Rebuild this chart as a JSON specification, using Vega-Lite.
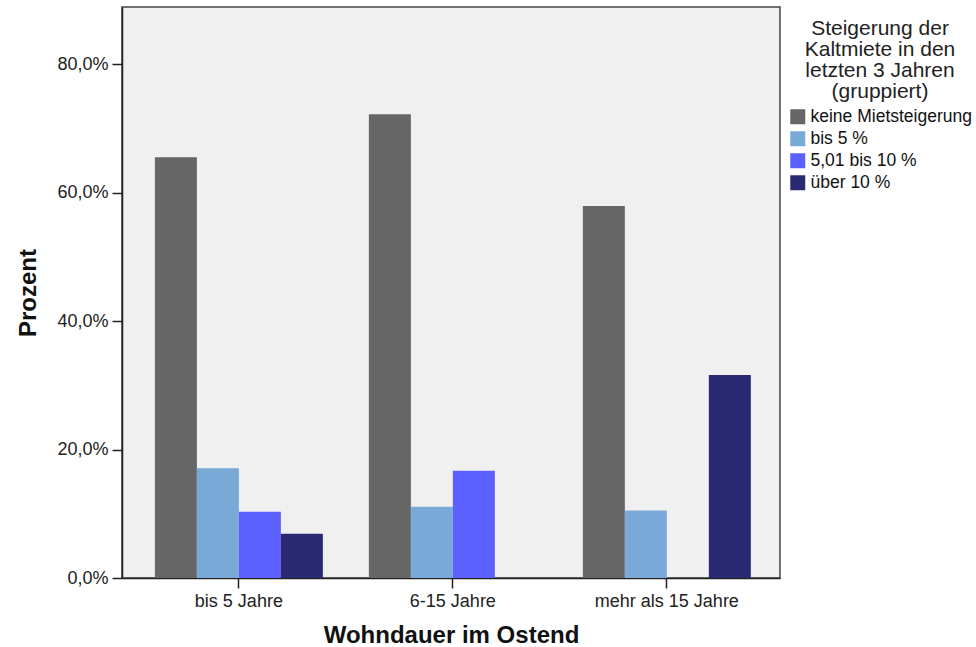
{
  "$schema": "https://vega.github.io/schema/vega-lite/v6.json",
  "width": 658,
  "height": 571,
  "autosize": {"type": "none"},
  "padding": {"left": 122, "top": 7, "right": 196, "bottom": 69},
  "background": "white",
  "config": {
    "font": "Liberation Sans",
    "view": {"fill": "#f0f0f0", "stroke": "#444444", "strokeWidth": 1.5}
  },
  "data": {
    "values": [
      {"wohndauer": "bis 5 Jahre", "steigerung": "keine Mietsteigerung", "prozent": 65.5},
      {"wohndauer": "bis 5 Jahre", "steigerung": "bis 5 %", "prozent": 17.1},
      {"wohndauer": "bis 5 Jahre", "steigerung": "5,01 bis 10 %", "prozent": 10.3},
      {"wohndauer": "bis 5 Jahre", "steigerung": "über 10 %", "prozent": 6.9},
      {"wohndauer": "6-15 Jahre", "steigerung": "keine Mietsteigerung", "prozent": 72.2},
      {"wohndauer": "6-15 Jahre", "steigerung": "bis 5 %", "prozent": 11.1},
      {"wohndauer": "6-15 Jahre", "steigerung": "5,01 bis 10 %", "prozent": 16.7},
      {"wohndauer": "6-15 Jahre", "steigerung": "über 10 %", "prozent": 0},
      {"wohndauer": "mehr als 15 Jahre", "steigerung": "keine Mietsteigerung", "prozent": 57.9},
      {"wohndauer": "mehr als 15 Jahre", "steigerung": "bis 5 %", "prozent": 10.5},
      {"wohndauer": "mehr als 15 Jahre", "steigerung": "5,01 bis 10 %", "prozent": 0},
      {"wohndauer": "mehr als 15 Jahre", "steigerung": "über 10 %", "prozent": 31.6}
    ]
  },
  "mark": {"type": "bar"},
  "encoding": {
    "x": {
      "field": "wohndauer",
      "type": "nominal",
      "sort": ["bis 5 Jahre", "6-15 Jahre", "mehr als 15 Jahre"],
      "scale": {"paddingInner": 0.215, "paddingOuter": 0.145, "align": 0.53},
      "axis": {
        "title": "Wohndauer im Ostend",
        "titleFontSize": 24,
        "titleFontWeight": "bold",
        "titleColor": "#111111",
        "titlePadding": 13,
        "labelAngle": 0,
        "labelFontSize": 18,
        "labelColor": "#222222",
        "labelPadding": 4,
        "tickSize": 10,
        "tickColor": "#222222",
        "tickWidth": 1.5,
        "domainColor": "#222222",
        "domainWidth": 1.5
      }
    },
    "xOffset": {
      "field": "steigerung",
      "type": "nominal",
      "sort": ["keine Mietsteigerung", "bis 5 %", "5,01 bis 10 %", "über 10 %"],
      "scale": {"paddingInner": 0, "paddingOuter": 0}
    },
    "y": {
      "field": "prozent",
      "type": "quantitative",
      "scale": {"domain": [0, 88.9], "nice": false},
      "axis": {
        "title": "Prozent",
        "titleFontSize": 24,
        "titleFontWeight": "bold",
        "titleColor": "#111111",
        "titlePadding": 16,
        "values": [0, 20, 40, 60, 80],
        "labelExpr": "replace(format(datum.value, '.1f'), '.', ',') + '%'",
        "labelFontSize": 18,
        "labelColor": "#222222",
        "labelPadding": 4,
        "tickSize": 10,
        "tickColor": "#222222",
        "tickWidth": 1.5,
        "domainColor": "#222222",
        "domainWidth": 1.5,
        "grid": false
      }
    },
    "color": {
      "field": "steigerung",
      "type": "nominal",
      "scale": {
        "domain": ["keine Mietsteigerung", "bis 5 %", "5,01 bis 10 %", "über 10 %"],
        "range": ["#666666", "#79a9d6", "#5c60fe", "#2a2a72"]
      },
      "legend": {
        "title": ["Steigerung der", "Kaltmiete in den", "letzten 3 Jahren", "(gruppiert)"],
        "orient": "none",
        "legendX": 667,
        "legendY": 11,
        "padding": 0,
        "titleFontSize": 21,
        "titleFontWeight": "normal",
        "titleColor": "#222222",
        "titleAlign": "center",
        "titleAnchor": "middle",
        "titleLineHeight": 21,
        "titlePadding": 6,
        "titleLimit": 300,
        "symbolType": "square",
        "symbolSize": 225,
        "symbolStrokeWidth": 0,
        "symbolOpacity": 1,
        "labelFontSize": 17.5,
        "labelColor": "#111111",
        "labelOffset": 4,
        "labelLimit": 300,
        "rowPadding": 3
      }
    }
  }
}
